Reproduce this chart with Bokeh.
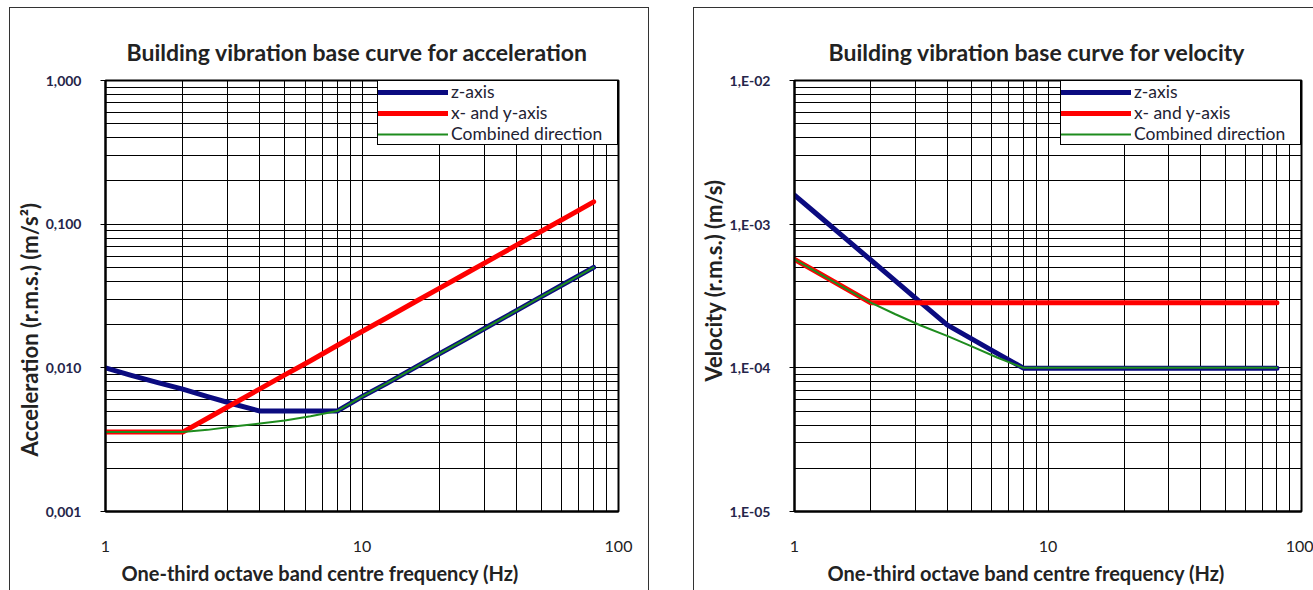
import math
from bokeh.plotting import figure
from bokeh.models import (Range1d, FixedTicker, CustomJSTickFormatter, Legend,
                          LegendItem, Title, Spacer)
from bokeh.layouts import row, column
from bokeh.embed import file_html
from bokeh.resources import INLINE

# ---------------- data ----------------
freq = [1, 1.25, 1.6, 2, 2.5, 3.15, 4, 5, 6.3, 8, 10, 12.5, 16, 20, 25, 31.5, 40, 50, 63, 80]

acc_z = [0.0100, 0.0089, 0.0079, 0.0071, 0.0063, 0.0056, 0.0050, 0.0050, 0.0050, 0.0050,
         0.0063, 0.0078, 0.0100, 0.0125, 0.0156, 0.0197, 0.0250, 0.0313, 0.0394, 0.0500]
acc_xy = [0.00357, 0.00357, 0.00357, 0.00357, 0.00446, 0.00562, 0.00714, 0.00893, 0.0112, 0.0143,
          0.0179, 0.0223, 0.0286, 0.0357, 0.0446, 0.0562, 0.0714, 0.0893, 0.1125, 0.1430]
acc_comb = [0.00357, 0.00357, 0.00357, 0.00357, 0.0037, 0.0039, 0.0041, 0.0043, 0.0046, 0.0050,
            0.0063, 0.0078, 0.0100, 0.0125, 0.0156, 0.0197, 0.0250, 0.0313, 0.0394, 0.0500]

vel_z = [1.59e-3, 1.14e-3, 7.86e-4, 5.63e-4, 4.03e-4, 2.84e-4, 1.99e-4, 1.59e-4, 1.26e-4, 9.95e-5,
         9.95e-5, 9.95e-5, 9.95e-5, 9.95e-5, 9.95e-5, 9.95e-5, 9.95e-5, 9.95e-5, 9.95e-5, 9.95e-5]
vel_xy = [5.68e-4, 4.55e-4, 3.55e-4, 2.84e-4, 2.84e-4, 2.84e-4, 2.84e-4, 2.84e-4, 2.84e-4, 2.84e-4,
          2.84e-4, 2.84e-4, 2.84e-4, 2.84e-4, 2.84e-4, 2.84e-4, 2.84e-4, 2.84e-4, 2.84e-4, 2.84e-4]
vel_comb = [5.68e-4, 4.55e-4, 3.55e-4, 2.84e-4, 2.36e-4, 1.97e-4, 1.67e-4, 1.41e-4, 1.18e-4, 1.0e-4,
            1.0e-4, 1.0e-4, 1.0e-4, 1.0e-4, 1.0e-4, 1.0e-4, 1.0e-4, 1.0e-4, 1.0e-4, 1.0e-4]

series_names = ["z-axis", "x- and y-axis", "Combined direction"]

x_ticks = [1, 10, 100]
x_tick_labels = ["1", "10", "100"]
acc_ticks = [0.001, 0.01, 0.1, 1.0]
acc_tick_labels = ["0,001", "0,010", "0,100", "1,000"]
vel_ticks = [1e-5, 1e-4, 1e-3, 1e-2]
vel_tick_labels = ["1,E-05", "1,E-04", "1,E-03", "1,E-02"]

x_title = "One-third octave band centre frequency (Hz)"

FONT = "Lato"
COLORS = ["#0b0b80", "#ff0000", "#1e8c1e"]
WIDTHS = [5, 5, 2]
H = 583

FMT_CODE = """
let best = -1, bd = 1e9;
for (let i = 0; i < tvals.length; i++) {
  const d = Math.abs(Math.log10(tvals[i]) - Math.log10(tick));
  if (d < bd) { bd = d; best = i; }
}
return (bd < 1e-6) ? tlabels[best] : "";
"""


def minor_list(lo_exp, hi_exp):
    return [m * 10.0 ** k for k in range(lo_exp, hi_exp) for m in range(2, 10)]


def make_panel(title, ys, y_ticks, y_labels, y_title, width, mb_left, mb_right,
               styles, title_offset, xt_offset, yt_offset):
    p = figure(width=width, height=H, x_axis_type="log", y_axis_type="log",
               x_range=Range1d(1, 100), y_range=Range1d(y_ticks[0], y_ticks[-1]),
               output_backend="svg", toolbar_location=None, tools="",
               min_border_left=mb_left, min_border_right=mb_right,
               min_border_top=72, min_border_bottom=80,
               background_fill_color="white", border_fill_color="white",
               styles=styles)
    p.title.text = title
    p.title.align = "left"
    p.title.offset = title_offset
    p.title.text_font = FONT
    p.title.text_font_size = "23px"
    p.title.text_font_style = "bold"
    p.title.text_color = "#222222"
    p.title.standoff = 29

    p.outline_line_color = "black"
    p.outline_line_width = 2
    p.outline_line_alpha = 1

    lo = int(round(math.log10(y_ticks[0])))
    hi = int(round(math.log10(y_ticks[-1])))
    p.xaxis.ticker = FixedTicker(ticks=x_ticks, minor_ticks=minor_list(0, 2))
    p.yaxis.ticker = FixedTicker(ticks=y_ticks, minor_ticks=minor_list(lo, hi))
    p.xaxis.formatter = CustomJSTickFormatter(args=dict(tvals=x_ticks, tlabels=x_tick_labels), code=FMT_CODE)
    p.yaxis.formatter = CustomJSTickFormatter(args=dict(tvals=y_ticks, tlabels=y_labels), code=FMT_CODE)

    for ax in (p.xaxis, p.yaxis):
        ax.axis_line_color = "black"
        ax.axis_line_width = 2
        ax.minor_tick_in = 0
        ax.minor_tick_out = 0
        ax.major_tick_in = 0
        ax.major_tick_line_color = "black"
        ax.major_label_text_font = FONT
    p.xaxis.major_tick_out = 0
    p.xaxis.major_label_standoff = 29
    p.xaxis.major_label_text_font_size = "16px"
    p.xaxis.major_label_text_color = "#222222"
    p.yaxis.major_tick_out = 5
    p.yaxis.major_label_standoff = 19
    p.yaxis.major_label_text_font_size = "14px"
    p.yaxis.major_label_text_font_style = "bold"
    p.yaxis.major_label_text_color = "#25254a"

    for g in (p.xgrid, p.ygrid):
        g.grid_line_color = "black"
        g.grid_line_width = 1
        g.grid_line_alpha = 1
        g.minor_grid_line_color = "black"
        g.minor_grid_line_width = 1
        g.minor_grid_line_alpha = 1

    renderers = []
    for yv, c, w in zip(ys, COLORS, WIDTHS):
        r = p.line(freq, yv, line_color=c, line_width=w, line_join="round", line_cap="round")
        renderers.append(r)

    leg = Legend(items=[LegendItem(label=n, renderers=[r]) for n, r in zip(series_names, renderers)],
                 location="top_right", margin=0, padding=0, spacing=0,
                 glyph_width=70, glyph_height=20, label_height=20, label_width=166,
                 label_standoff=3,
                 border_line_color="black", border_line_width=1, border_line_alpha=1,
                 background_fill_color="white", background_fill_alpha=1,
                 label_text_font=FONT, label_text_font_size="17.5px", label_text_color="#222233")
    p.add_layout(leg)

    # axis titles as side-panel titles
    p.add_layout(Title(text=x_title, align="left", offset=xt_offset, standoff=8,
                       text_font=FONT, text_font_size="20px", text_font_style="bold",
                       text_color="#222222"), "below")
    p.add_layout(Title(text=y_title, align="left", offset=yt_offset, standoff=0,
                       text_font=FONT, text_font_size="22px", text_font_style="bold",
                       text_color="#222222"), "left")
    return p


p1 = make_panel("Building vibration base curve for acceleration",
                [acc_z, acc_xy, acc_comb], acc_ticks, acc_tick_labels,
                "Acceleration (r.m.s.) (m/s\u00b2)",
                width=640, mb_left=95, mb_right=32,
                styles={"border-left": "1px solid #333", "border-top": "1px solid #333",
                        "border-right": "1px solid #333"},
                title_offset=21, xt_offset=16, yt_offset=55)

p2 = make_panel("Building vibration base curve for velocity",
                [vel_z, vel_xy, vel_comb], vel_ticks, vel_tick_labels,
                "Velocity (r.m.s.) (m/s)",
                width=620, mb_left=100, mb_right=13,
                styles={"border-left": "1px solid #333", "border-top": "1px solid #333"},
                title_offset=34, xt_offset=33, yt_offset=130)

layout = column(Spacer(height=7),
                row(Spacer(width=9), p1, Spacer(width=44), p2))

with open("out.html", "w") as f:
    f.write(file_html(layout, INLINE))
